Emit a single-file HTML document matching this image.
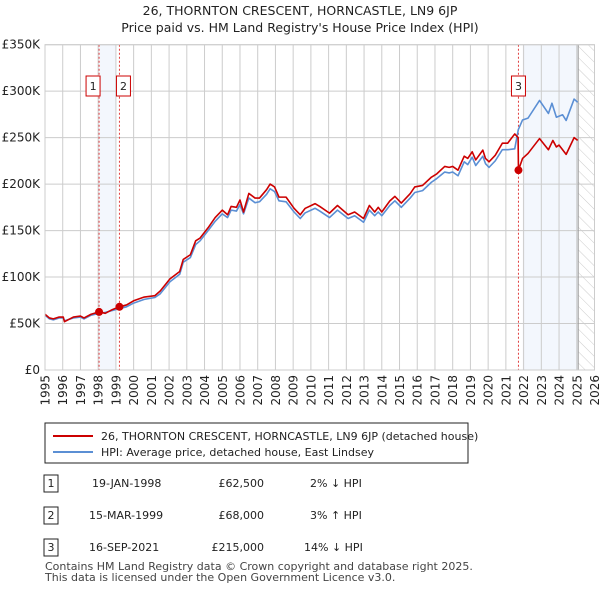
<!DOCTYPE html>
<html><head><meta charset="utf-8"><style>
body{margin:0;background:#fff;font-family:"Liberation Sans","DejaVu Sans",sans-serif;}
svg text{font-family:"DejaVu Sans","Liberation Sans",sans-serif;}
</style></head><body>
<svg width="600" height="590" viewBox="0 0 600 590" xmlns="http://www.w3.org/2000/svg">
<defs><pattern id="hatch" width="8" height="8" patternUnits="userSpaceOnUse" patternTransform="rotate(-45)"><line x1="0" y1="0" x2="0" y2="8" stroke="#ccc" stroke-width="1"/></pattern></defs>
<text x="300" y="15" text-anchor="middle" font-size="12.5" fill="#222">26, THORNTON CRESCENT, HORNCASTLE, LN9 6JP</text>
<text x="300" y="32" text-anchor="middle" font-size="12.5" fill="#222">Price paid vs. HM Land Registry's House Price Index (HPI)</text>
<g id="plot"></g>
<g>
<rect x="45" y="423" width="423" height="40" fill="#fff" stroke="#222" stroke-width="1"/>
<line x1="53" y1="436" x2="93" y2="436" stroke="#cc0000" stroke-width="2"/>
<text x="101" y="440" font-size="11" fill="#222">26, THORNTON CRESCENT, HORNCASTLE, LN9 6JP (detached house)</text>
<line x1="53" y1="452" x2="93" y2="452" stroke="#5b8fd4" stroke-width="2"/>
<text x="101" y="456" font-size="11" fill="#222">HPI: Average price, detached house, East Lindsey</text>
</g>
<g font-size="11" fill="#222">
<rect x="44" y="475" width="14" height="17" fill="#fff" stroke="#222"/><text x="51" y="487" text-anchor="middle">1</text>
<text x="92" y="487">19-JAN-1998</text><text x="264" y="487" text-anchor="end">£62,500</text><text x="310" y="487">2% ↓ HPI</text>
<rect x="44" y="507" width="14" height="17" fill="#fff" stroke="#222"/><text x="51" y="519" text-anchor="middle">2</text>
<text x="89" y="519">15-MAR-1999</text><text x="264" y="519" text-anchor="end">£68,000</text><text x="310" y="519">3% ↑ HPI</text>
<rect x="44" y="539" width="14" height="17" fill="#fff" stroke="#222"/><text x="51" y="551" text-anchor="middle">3</text>
<text x="89" y="551">16-SEP-2021</text><text x="264" y="551" text-anchor="end">£215,000</text><text x="304" y="551">14% ↓ HPI</text>
</g>
<text x="45" y="570" font-size="11" fill="#444">Contains HM Land Registry data © Crown copyright and database right 2025.</text>
<text x="45" y="581" font-size="11" fill="#444">This data is licensed under the Open Government Licence v3.0.</text>
</svg>
<script>
const yTicks=[0,50000,100000,150000,200000,250000,300000,350000];
const yTickLabels=["£0","£50K","£100K","£150K","£200K","£250K","£300K","£350K"];
const xYears=[1995,1996,1997,1998,1999,2000,2001,2002,2003,2004,2005,2006,2007,2008,2009,2010,2011,2012,2013,2014,2015,2016,2017,2018,2019,2020,2021,2022,2023,2024,2025,2026];
const redT=[1995.0,1995.25,1995.47,1995.8,1996.03,1996.1,1996.6,1997.0,1997.2,1997.6,1998.05,1998.4,1998.8,1999.2,1999.6,2000.0,2000.6,2001.2,2001.5,2002.05,2002.6,2002.8,2003.2,2003.5,2003.75,2004.2,2004.6,2005.0,2005.3,2005.5,2005.8,2006.0,2006.2,2006.5,2006.85,2007.1,2007.5,2007.7,2007.95,2008.2,2008.6,2009.05,2009.4,2009.67,2010.24,2010.5,2011.05,2011.5,2012.1,2012.47,2012.97,2013.3,2013.6,2013.8,2014.0,2014.45,2014.74,2015.1,2015.6,2015.86,2016.3,2016.8,2017.1,2017.55,2017.8,2018.0,2018.3,2018.65,2018.85,2019.1,2019.3,2019.7,2019.85,2020.05,2020.4,2020.8,2021.1,2021.5,2021.69,2021.71,2021.94,2022.25,2022.9,2023.4,2023.65,2023.85,2024.0,2024.4,2024.85,2025.05];
const redV=[60,56,55,57,57,52,57,58,56,60,62.5,61,65,68,70,74.5,78.5,80,85,98,106,119,124,139,142,153,164,172,167,176,175,183,170,190,185,185,194,200,197,186,186,174,167,173.8,179,176,168.8,177,167,170,163,177,170,175,170,181.8,186.8,179.6,189.7,197,198.6,207.5,211,219,218,219,215,230,227.6,234.8,226,236.6,227.6,224,231,244,244,254,250,215,227.6,233,249,237,247,240,242,232,250,247];
const hpiT=[1995.0,1995.25,1995.47,1995.8,1996.03,1996.1,1996.6,1997.0,1997.2,1997.6,1998.05,1998.4,1998.8,1999.2,1999.6,2000.0,2000.6,2001.2,2001.5,2002.05,2002.6,2002.8,2003.2,2003.5,2003.75,2004.2,2004.6,2005.0,2005.3,2005.5,2005.8,2006.0,2006.2,2006.5,2006.85,2007.1,2007.5,2007.7,2007.95,2008.2,2008.6,2009.05,2009.4,2009.67,2010.24,2010.5,2011.05,2011.5,2012.1,2012.47,2012.97,2013.3,2013.6,2013.8,2014.0,2014.45,2014.74,2015.1,2015.6,2015.86,2016.3,2016.8,2017.1,2017.55,2017.8,2018.0,2018.3,2018.65,2018.85,2019.1,2019.3,2019.7,2019.85,2020.05,2020.4,2020.8,2021.1,2021.5,2021.7,2021.94,2022.25,2022.9,2023.4,2023.6,2023.85,2024.2,2024.4,2024.85,2025.05];
const hpiV=[59,55,54,56,56,53,56,57,55,59,61,62,64,66,68,72,76,78,82,95,103,116,121,135,139,150,160,168,164,172,171,178,168,185,180,181,189,195,192,182,181,170,163,169,174,171,164,172,163,166,159,172,166,170,166,177,182,175,185,191,193,202,206,213,212,213,209,224,221,229,220,230,222,218,225,237,237,238,258.5,269,271,290,276,287,272,274.6,268.5,291.5,288];
const saleT=[1998.05,1999.2,2021.71];
const saleV=[62500,68000,215000];
const saleLabels=["1","2","3"];

const NS="http://www.w3.org/2000/svg";
const X0=45,X1=594.5,Y0=370,Y1=44.7;
const xS=t=>X0+(t-1995)/(2026-1995)*(X1-X0);
const yS=v=>Y0-v/350000*(Y0-Y1);
const g=document.getElementById('plot');
function mk(tag,attrs,parent){const e=document.createElementNS(NS,tag);for(const k in attrs)e.setAttribute(k,attrs[k]);(parent||g).appendChild(e);return e;}

let r=mk('rect',{x:xS(1998.05),y:Y1,width:xS(1999.0)-xS(1998.05),height:Y0-Y1,fill:'#eef3fc',opacity:0.7});


r=mk('rect',{x:xS(2021.95),y:Y1,width:xS(2025.08)-xS(2021.95),height:Y0-Y1,fill:'#eef3fc',opacity:0.7});


r=mk('rect',{x:xS(2025.08),y:Y1,width:X1-xS(2025.08),height:Y0-Y1,fill:'url(#hatch)'});



yTicks.forEach((v,i)=>{
 const l=mk('line',{x1:X0,x2:X1,y1:yS(v),y2:yS(v),stroke:'#ccc','stroke-width':1});
 
 
 const t=mk('text',{x:40,y:yS(v)+4,'text-anchor':'end','font-size':12,fill:'#222'});
 t.textContent=yTickLabels[i];
 
 
});
xYears.forEach(yr=>{
 const l=mk('line',{x1:xS(yr),x2:xS(yr),y1:Y1,y2:Y0,stroke:'#ccc','stroke-width':1});
 
 
 const x=xS(yr)+4.5,y=375;
 const t=mk('text',{x:x,y:y,'text-anchor':'end','font-size':12,fill:'#222',transform:'rotate(-90 '+x+' '+y+')'});
 t.textContent=yr;
 
 
});
let l=mk('line',{x1:xS(2025.08),x2:xS(2025.08),y1:Y1,y2:Y0,stroke:'#999','stroke-width':1});



saleT.forEach((t,i)=>{
 const d=mk('line',{x1:xS(t),x2:xS(t),y1:Y1,y2:Y0,stroke:'#e04040','stroke-width':1,'stroke-dasharray':'2,2'});
 
 
});

const hp=mk('polyline',{points:hpiT.map((t,i)=>xS(t)+','+yS(hpiV[i]*1000)).join(' '),fill:'none',stroke:'#5b8fd4','stroke-width':1.6,'stroke-linejoin':'round'});


const rp=mk('polyline',{points:redT.map((t,i)=>xS(t)+','+yS(redV[i]*1000)).join(' '),fill:'none',stroke:'#cc0000','stroke-width':1.6,'stroke-linejoin':'round'});



saleT.forEach((t,i)=>{
 const c=mk('circle',{cx:xS(t),cy:yS(saleV[i]),r:4,fill:'#cc0000'});
 
 
 const bx=(i===2)?xS(t)-7:(i===0?xS(t)-13:xS(t)-3);
 const b=mk('rect',{x:bx,y:76,width:14,height:20,fill:'#fff',stroke:'#cc0000','stroke-width':1});
 
 
 const tx=mk('text',{x:bx+7,y:90,'text-anchor':'middle','font-size':11,fill:'#222'});
 tx.textContent=saleLabels[i];
 
 
});
const border=mk('rect',{x:X0,y:Y1,width:X1-X0,height:Y0-Y1,fill:'none',stroke:'#ccc','stroke-width':1});


</script>
</body></html>
